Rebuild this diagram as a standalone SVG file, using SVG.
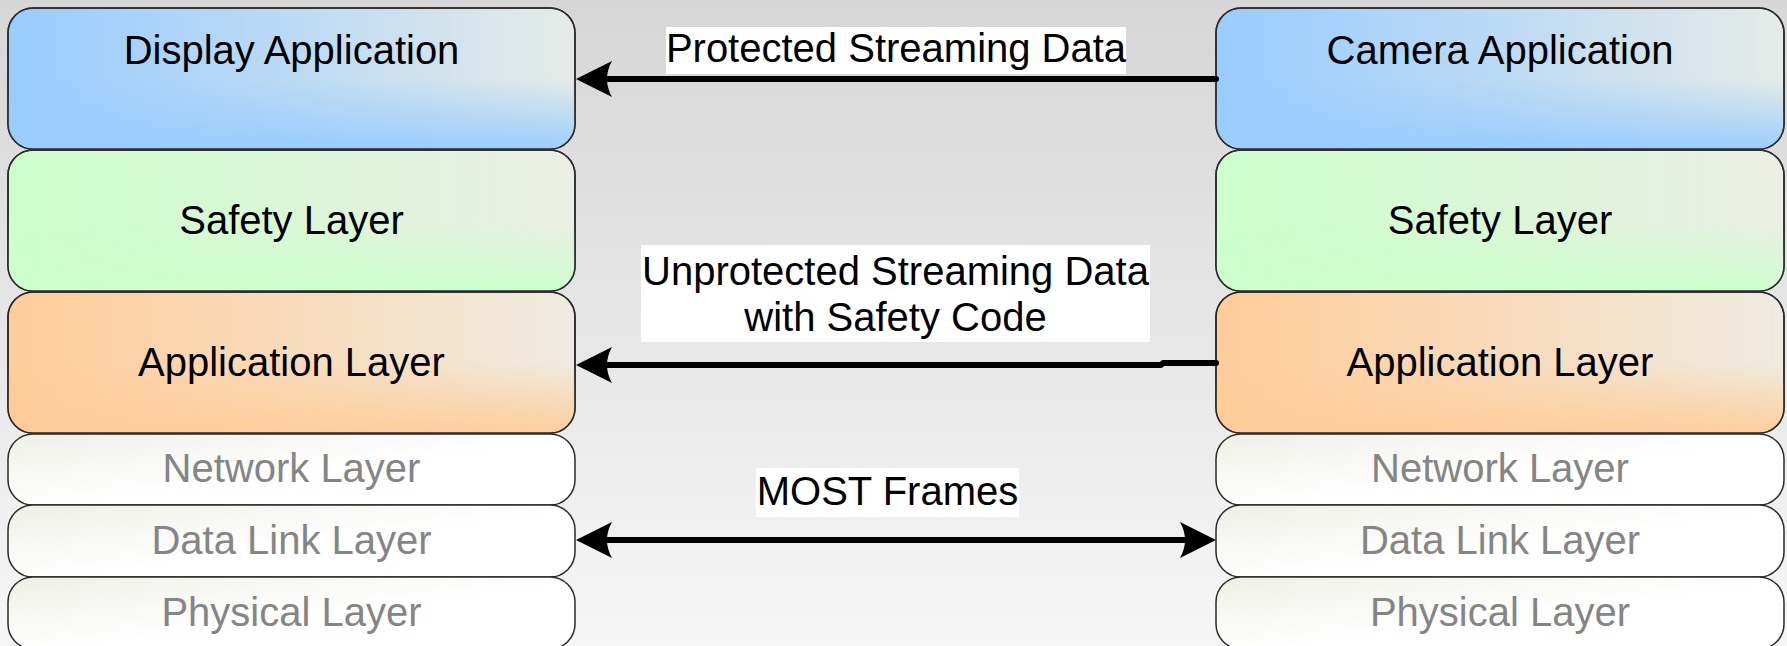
<svg xmlns="http://www.w3.org/2000/svg" width="1787" height="646" viewBox="0 0 1787 646">
<style>
.box{stroke:#2b2b2b;stroke-width:1.5}
.ov{stroke:none}
.t{font-family:"Liberation Sans",Arial,sans-serif;font-size:40px;text-anchor:middle;fill:#000}
.g{fill:#858585}
.lbl{fill:#ffffff;stroke:none}
.conn{fill:none;stroke:#000;stroke-width:6;stroke-linecap:round;stroke-linejoin:round}
</style>
<defs>
<linearGradient id="bg" x1="0" y1="0" x2="0" y2="1">
<stop offset="0" stop-color="#d6d6d6"/>
<stop offset="1" stop-color="#f6f6f6"/>
</linearGradient>
<linearGradient id="blueH" x1="0" y1="0" x2="1" y2="0">
<stop offset="0" stop-color="#99ccff"/>
<stop offset="0.5" stop-color="#bcdaf4"/>
<stop offset="1" stop-color="#e6ebe7"/>
</linearGradient>
<linearGradient id="blueV" x1="0" y1="0" x2="0" y2="1">
<stop offset="0.5" stop-color="#99ccff" stop-opacity="0"/>
<stop offset="1" stop-color="#99ccff" stop-opacity="0.95"/>
</linearGradient>
<linearGradient id="greenH" x1="0" y1="0" x2="1" y2="0">
<stop offset="0" stop-color="#ccffcc"/>
<stop offset="0.5" stop-color="#dbf6d7"/>
<stop offset="1" stop-color="#ebeee4"/>
</linearGradient>
<linearGradient id="greenV" x1="0" y1="0" x2="0" y2="1">
<stop offset="0.5" stop-color="#ccffcc" stop-opacity="0"/>
<stop offset="1" stop-color="#ccffcc" stop-opacity="0.95"/>
</linearGradient>
<linearGradient id="orangeH" x1="0" y1="0" x2="1" y2="0">
<stop offset="0" stop-color="#ffcc99"/>
<stop offset="0.5" stop-color="#f8dbbb"/>
<stop offset="1" stop-color="#efebe1"/>
</linearGradient>
<linearGradient id="orangeV" x1="0" y1="0" x2="0" y2="1">
<stop offset="0.5" stop-color="#ffcc99" stop-opacity="0"/>
<stop offset="1" stop-color="#ffcc99" stop-opacity="0.95"/>
</linearGradient>
<linearGradient id="whiteH" x1="0" y1="0" x2="1" y2="1">
<stop offset="0" stop-color="#eef0e7"/>
<stop offset="0.55" stop-color="#ffffff"/>
<stop offset="1" stop-color="#ffffff"/>
</linearGradient>
<marker id="ah" viewBox="0 -18 36 36" markerWidth="36" markerHeight="36" refX="10" refY="0" markerUnits="userSpaceOnUse" orient="auto-start-reverse">
<path d="M36,0 L0,-18 Q10,0 0,18 Z" fill="#000"/>
</marker>
</defs>
<rect x="0" y="0" width="1787" height="646" fill="url(#bg)"/>

<g id="display-application">
<rect class="box" x="8" y="8" width="567" height="141" rx="25" fill="url(#blueH)"/>
<rect class="ov" x="8" y="8" width="567" height="141" rx="25" fill="url(#blueV)"/>
<rect x="8" y="8" width="567" height="141" rx="25" fill="none" class="box"/>
<text class="t" x="291.5" y="64">Display Application</text>
</g>
<g id="left-safety-layer">
<rect class="box" x="8" y="150" width="567" height="141" rx="25" fill="url(#greenH)"/>
<rect class="ov" x="8" y="150" width="567" height="141" rx="25" fill="url(#greenV)"/>
<rect x="8" y="150" width="567" height="141" rx="25" fill="none" class="box"/>
<text class="t" x="291.5" y="234">Safety Layer</text>
</g>
<g id="left-application-layer">
<rect class="box" x="8" y="292" width="567" height="141" rx="25" fill="url(#orangeH)"/>
<rect class="ov" x="8" y="292" width="567" height="141" rx="25" fill="url(#orangeV)"/>
<rect x="8" y="292" width="567" height="141" rx="25" fill="none" class="box"/>
<text class="t" x="291.5" y="376">Application Layer</text>
</g>
<g id="left-network-layer">
<rect class="box" x="8" y="434" width="567" height="71" rx="25" fill="url(#whiteH)"/>
<text class="t g" x="291.5" y="482">Network Layer</text>
</g>
<g id="left-data-link-layer">
<rect class="box" x="8" y="505" width="567" height="72" rx="25" fill="url(#whiteH)"/>
<text class="t g" x="291.5" y="554">Data Link Layer</text>
</g>
<g id="left-physical-layer">
<rect class="box" x="8" y="577" width="567" height="72" rx="25" fill="url(#whiteH)"/>
<text class="t g" x="291.5" y="626">Physical Layer</text>
</g>

<g id="camera-application">
<rect class="box" x="1216" y="8" width="568" height="141" rx="25" fill="url(#blueH)"/>
<rect class="ov" x="1216" y="8" width="568" height="141" rx="25" fill="url(#blueV)"/>
<rect x="1216" y="8" width="568" height="141" rx="25" fill="none" class="box"/>
<text class="t" x="1500" y="64">Camera Application</text>
</g>
<g id="right-safety-layer">
<rect class="box" x="1216" y="150" width="568" height="141" rx="25" fill="url(#greenH)"/>
<rect class="ov" x="1216" y="150" width="568" height="141" rx="25" fill="url(#greenV)"/>
<rect x="1216" y="150" width="568" height="141" rx="25" fill="none" class="box"/>
<text class="t" x="1500" y="234">Safety Layer</text>
</g>
<g id="right-application-layer">
<rect class="box" x="1216" y="292" width="568" height="141" rx="25" fill="url(#orangeH)"/>
<rect class="ov" x="1216" y="292" width="568" height="141" rx="25" fill="url(#orangeV)"/>
<rect x="1216" y="292" width="568" height="141" rx="25" fill="none" class="box"/>
<text class="t" x="1500" y="376">Application Layer</text>
</g>
<g id="right-network-layer">
<rect class="box" x="1216" y="434" width="568" height="71" rx="25" fill="url(#whiteH)"/>
<text class="t g" x="1500" y="482">Network Layer</text>
</g>
<g id="right-data-link-layer">
<rect class="box" x="1216" y="505" width="568" height="72" rx="25" fill="url(#whiteH)"/>
<text class="t g" x="1500" y="554">Data Link Layer</text>
</g>
<g id="right-physical-layer">
<rect class="box" x="1216" y="577" width="568" height="72" rx="25" fill="url(#whiteH)"/>
<text class="t g" x="1500" y="626">Physical Layer</text>
</g>

<g id="connectors">
<path class="conn" d="M1216,79 L602,79" marker-end="url(#ah)"/>
<rect class="lbl" x="666" y="27" width="460" height="47"/>
<text class="t" x="896" y="62">Protected Streaming Data</text>

<path class="conn" d="M1216,363 L1163,363 L1161,365 L602,365" marker-end="url(#ah)"/>
<rect class="lbl" x="641" y="245" width="509" height="97"/>
<text class="t" x="895.5" y="285">Unprotected Streaming Data</text>
<text class="t" x="895.5" y="331">with Safety Code</text>

<path class="conn" d="M602,540 L1190,540" marker-start="url(#ah)" marker-end="url(#ah)"/>
<rect class="lbl" x="756" y="468" width="263" height="49"/>
<text class="t" x="887.5" y="505">MOST Frames</text>
</g>
</svg>
